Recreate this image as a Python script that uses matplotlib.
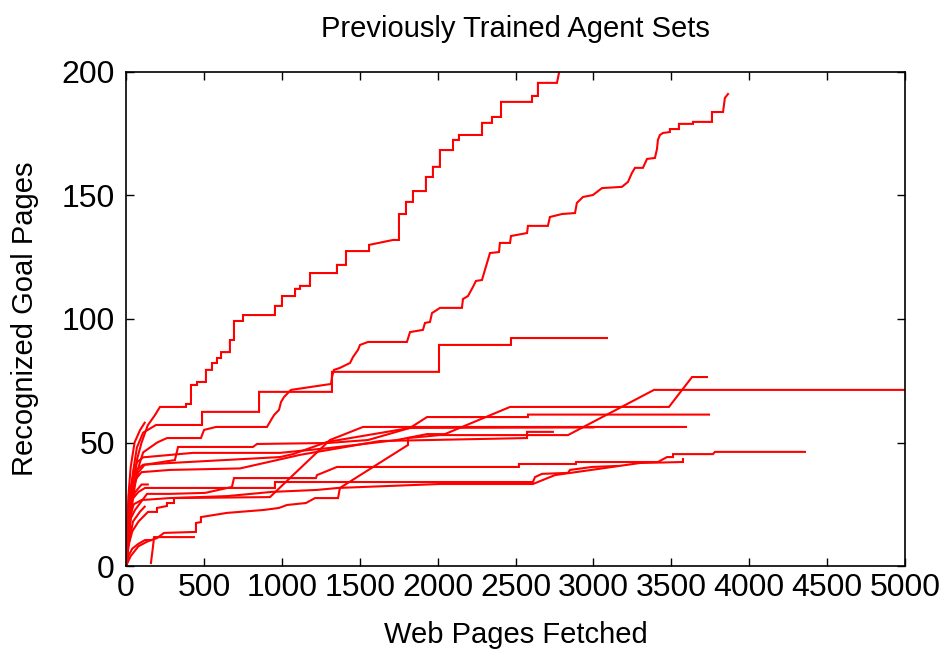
import matplotlib
matplotlib.use("Agg")
import matplotlib.pyplot as plt

plt.rcParams['font.family'] = ['Liberation Sans', 'DejaVu Sans']

# agent runs: (web pages fetched, recognized goal pages)
run_a = [(0, 0), (15, 10), (30, 22), (45, 31), (70, 43), (100, 50), (140, 57), (185, 61),
         (218, 64.4), (385, 64.4), (385, 65.6), (417, 65.6), (417, 73.3), (456, 73.3),
         (456, 74.5), (513, 74.5), (513, 79.4), (552, 79.4), (552, 82.2), (584, 82.2),
         (584, 84.2), (610, 84.2), (610, 86.6), (667, 86.6), (667, 91.5), (693, 91.5),
         (693, 99.2), (751, 99.2), (751, 101.6), (956, 101.6), (956, 105.3), (1001, 105.3),
         (1001, 109.3), (1085, 109.3), (1085, 112.2), (1117, 112.2), (1117, 113.4),
         (1181, 113.4), (1181, 118.6), (1354, 118.6), (1354, 121.9), (1412, 121.9),
         (1412, 127.5), (1560, 127.5), (1560, 130), (1714, 132), (1752, 132), (1752, 142.5),
         (1797, 142.5), (1797, 147.4), (1842, 147.4), (1842, 151.8), (1925, 151.8),
         (1925, 157.5), (1970, 157.5), (1970, 161.6), (2015, 161.6), (2015, 168.4),
         (2099, 168.4), (2099, 172.5), (2137, 172.5), (2137, 174.5), (2285, 174.5),
         (2285, 179.4), (2349, 179.4), (2349, 181.8), (2407, 181.8), (2407, 187.9),
         (2606, 187.9), (2606, 190.3), (2644, 190.3), (2644, 195.6), (2766, 195.6), (2790, 203)]

run_b = [(0, 0), (20, 12), (40, 25), (70, 38), (110, 46), (200, 50), (263, 51.8), (481, 51.8),
         (501, 55.1), (578, 56.3), (905, 56.3), (931, 59.1), (950, 61.1), (982, 63.2),
         (995, 66.4), (1014, 68.4), (1059, 71.3), (1316, 73.7), (1322, 76.5), (1335, 79.4),
         (1373, 80.2), (1438, 82.2), (1457, 84.6), (1489, 87.5), (1502, 89.5), (1553, 90.7),
         (1803, 90.7), (1823, 94.7), (1906, 95.6), (1919, 98.4), (1951, 98.8), (1964, 102.4),
         (1996, 103.7), (2015, 104.5), (2156, 104.5), (2163, 108.1), (2195, 109.3),
         (2227, 113), (2246, 115.4), (2285, 115.8), (2304, 119.9), (2323, 123.9),
         (2336, 126.7), (2394, 127.1), (2400, 130.8), (2465, 130.8), (2471, 133.6),
         (2574, 134.8), (2580, 137.7), (2708, 137.7), (2721, 141.3), (2798, 142.5),
         (2882, 142.9), (2894, 147), (2933, 149.4), (2997, 150.2), (3055, 153), (3183, 153.5),
         (3222, 155.5), (3247, 159.1), (3267, 161.2), (3318, 161.2), (3344, 164.8),
         (3395, 165.2), (3408, 168.8), (3414, 172.5), (3427, 174.5), (3446, 175.3),
         (3491, 175.7), (3491, 176.9), (3549, 176.9), (3549, 179), (3639, 179), (3639, 179.8),
         (3761, 179.8), (3761, 183.8), (3832, 183.8), (3844, 189.5), (3864, 191.1)]

run_c = [(0, 0), (10, 12), (25, 25), (45, 38), (70, 48), (110, 54), (193, 57.1), (488, 57.1),
         (488, 62.4), (854, 62.4), (854, 70.5), (1322, 70.5), (1322, 78.6), (2009, 78.6),
         (2009, 89.5), (2471, 89.5), (2471, 92.3), (3087, 92.3)]

run_e = [(0, 0), (30, 4), (80, 8), (140, 10), (199, 11.3), (244, 13.4), (449, 13.8),
         (449, 17.4), (481, 17.8), (481, 19.8), (648, 21.5), (886, 22.7), (982, 23.5),
         (1033, 24.7), (1155, 25.5), (1213, 27.5), (1361, 27.5), (1373, 31.6), (1810, 49),
         (1810, 51.8), (2015, 53), (2837, 53), (3389, 71.3), (5000, 71.3)]

run_f = [(0, 0), (15, 8), (40, 14), (80, 18), (141, 21.9), (199, 21.9), (199, 23.5),
         (263, 24.3), (263, 25.5), (308, 25.5), (308, 27.5), (924, 27.9), (1309, 51),
         (1521, 56.3), (3594, 56.3)]

run_g = [(0, 0), (10, 12), (25, 22), (50, 32), (80, 38), (120, 41), (314, 42.9), (334, 48.2),
         (815, 48.2), (841, 49.4), (1296, 49.8), (1553, 51), (1823, 55.9), (1932, 60.3),
         (2580, 60.3), (2580, 61.3), (3742, 61.3)]

run_h = [(0, 0), (8, 15), (20, 25), (40, 35), (70, 42), (110, 44), (430, 45.8), (988, 45.8),
         (1309, 47.8), (1739, 51), (1932, 53.4), (2047, 53.4), (2465, 64.4), (3485, 64.4),
         (3633, 76.5), (3729, 76.5)]

run_j = [(0, 0), (12, 18), (30, 28), (60, 35), (100, 38), (282, 38.9), (732, 39.5),
         (1117, 45), (1630, 50.6), (2574, 51.8), (2574, 54.3), (2740, 54.3)]

run_t = [(0, 0), (10, 20), (25, 30), (50, 38), (110, 41), (282, 41.7), (988, 44.1),
         (1072, 45.3), (1290, 50.2), (1823, 55.9), (3000, 56.1)]

run_k = [(0, 0), (8, 10), (20, 18), (58, 22.7), (135, 29.2), (282, 29.2), (508, 29.6),
         (680, 32), (693, 35.6), (1219, 35.6), (1226, 36.8), (1354, 40.1), (2522, 40.1),
         (2522, 41.3), (2888, 41.3), (2888, 42.1), (3414, 42.1), (3472, 44.1), (3511, 44.1),
         (3511, 45.3), (3767, 45.3), (3780, 46.2), (4358, 46.2)]

run_l = [(0, 0), (10, 12), (25, 20), (50, 25), (100, 26.7), (282, 27.5), (650, 28.3),
         (937, 30), (1226, 30.8), (1361, 31.6), (2015, 33.2), (2612, 33.2), (2753, 36.8),
         (3299, 41.7), (3575, 42.1), (3575, 43.3)]

run_m = [(0, 0), (6, 10), (15, 20), (40, 27), (80, 30), (122, 31.6), (956, 31.6), (956, 34),
         (2612, 34), (2625, 36), (2670, 37.3), (2837, 37.7), (2850, 38.9), (2991, 40.1),
         (3151, 40.5)]

run_q1 = [(160, 1.2), (173, 7.7), (180, 11.7), (436, 11.7)]
run_q2 = [(0, 0), (15, 4), (40, 7), (80, 9), (122, 10.5), (160, 10.5)]
run_q3 = [(0, 0), (20, 10), (45, 18), (90, 22), (120, 24)]
run_q4 = [(0, 0), (10, 15), (30, 26), (60, 30), (100, 33), (140, 33)]
run_q5 = [(0, 0), (5, 10), (15, 28), (30, 40), (55, 50), (90, 55), (120, 58)]

runs = [run_a, run_b, run_c, run_e, run_f, run_g, run_h, run_j, run_t, run_k, run_l, run_m,
        run_q1, run_q2, run_q3, run_q4, run_q5]

x_ticks = [0, 500, 1000, 1500, 2000, 2500, 3000, 3500, 4000, 4500, 5000]
y_ticks = [0, 50, 100, 150, 200]

fig = plt.figure(figsize=(9.39, 6.52), dpi=100)
ax = fig.add_axes([126 / 939, 1 - 566 / 652, (905 - 126) / 939, (566 - 72) / 652])

for run in runs:
    xs = [p[0] for p in run]
    ys = [p[1] for p in run]
    ax.plot(xs, ys, color='red', lw=1.5, solid_joinstyle='miter')

ax.set_xlim(0, 5000)
ax.set_ylim(0, 200)
ax.set_xticks(x_ticks)
ax.set_yticks(y_ticks)
ax.tick_params(direction='in', length=6, width=1, labelsize=23, top=True, right=True,
               labeltop=False, labelright=False)
ax.tick_params(axis='x', pad=5)
ax.tick_params(axis='y', pad=8)
for s in ax.spines.values():
    s.set_linewidth(1.2)

ax.set_title('Previously Trained Agent Sets', fontsize=21, pad=25)
ax.set_xlabel('Web Pages Fetched', fontsize=21, labelpad=13)
ax.set_ylabel('Recognized Goal Pages', fontsize=21, labelpad=16)

fig.savefig('out.png', dpi=100)
